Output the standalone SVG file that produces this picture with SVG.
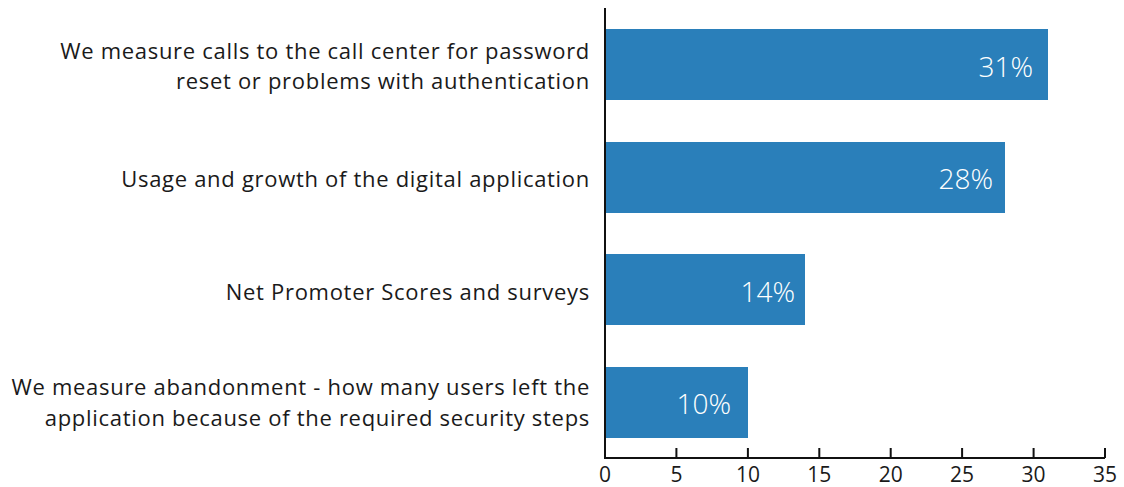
<svg xmlns="http://www.w3.org/2000/svg" width="1124" height="487" viewBox="0 0 1124 487">
  <style>
    .bar { fill: #2a7fba; }
    .cat { font-family: "Open Sans", Lato, sans-serif; font-size: 22px; letter-spacing: 0.7px; fill: #1a1a1a; text-anchor: end; }
    .val { font-family: "Open Sans", Lato, sans-serif; font-size: 28px; font-weight: 300; fill: #ffffff; text-anchor: end; }
    .tick { font-family: "Open Sans", Lato, sans-serif; font-size: 21px; fill: #1a1a1a; text-anchor: middle; }
    .axis { stroke: #111111; stroke-width: 2; fill: none; }
  </style>
  <rect width="1124" height="487" fill="#ffffff"/>

  <!-- bars: x scale 0..35 maps to 605..1105 -->
  <g id="bar-call-center">
    <rect class="bar" x="605" y="29" width="443" height="71"/>
    <text class="val" x="1033" y="77">31%</text>
    <text class="cat" x="590" y="59">We measure calls to the call center for password</text>
    <text class="cat" x="590" y="89">reset or problems with authentication</text>
  </g>
  <g id="bar-usage">
    <rect class="bar" x="605" y="142" width="400" height="71"/>
    <text class="val" x="993" y="189">28%</text>
    <text class="cat" x="590" y="187">Usage and growth of the digital application</text>
  </g>
  <g id="bar-nps">
    <rect class="bar" x="605" y="254" width="200" height="71"/>
    <text class="val" x="795" y="302">14%</text>
    <text class="cat" x="590" y="300">Net Promoter Scores and surveys</text>
  </g>
  <g id="bar-abandonment">
    <rect class="bar" x="605" y="367" width="143" height="71"/>
    <text class="val" x="731" y="414">10%</text>
    <text class="cat" x="590" y="395">We measure abandonment - how many users left the</text>
    <text class="cat" x="590" y="426">application because of the required security steps</text>
  </g>

  <!-- axes -->
  <g id="axes">
    <path class="axis" d="M605 8 V458 H1105"/>
    <path class="axis" d="M676.4 448 V458 M747.9 448 V458 M819.3 448 V458 M890.7 448 V458 M962.1 448 V458 M1033.6 448 V458 M1105 448 V458"/>
    <text class="tick" x="605" y="482">0</text>
    <text class="tick" x="676.4" y="482">5</text>
    <text class="tick" x="747.9" y="482">10</text>
    <text class="tick" x="819.3" y="482">15</text>
    <text class="tick" x="890.7" y="482">20</text>
    <text class="tick" x="962.1" y="482">25</text>
    <text class="tick" x="1033.6" y="482">30</text>
    <text class="tick" x="1105" y="482">35</text>
  </g>
</svg>
